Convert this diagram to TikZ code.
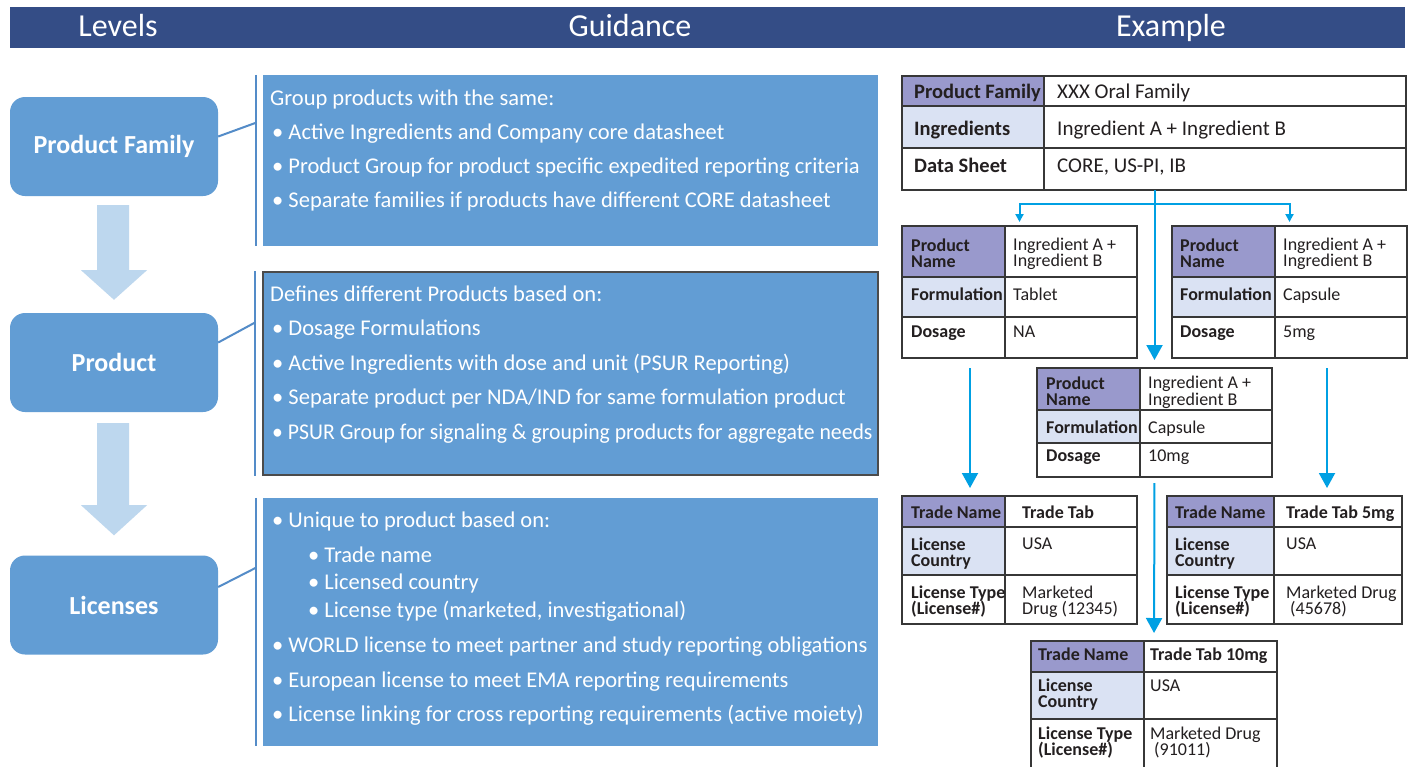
\documentclass[tikz,border=0pt]{standalone}
\usepackage{fontspec}
\setmainfont{Carlito}
\usetikzlibrary{arrows.meta,calc}
\definecolor{hdrc}{RGB}{52,77,134}
\definecolor{boxb}{RGB}{98,157,212}
\definecolor{arrl}{RGB}{189,215,238}
\definecolor{lnb}{RGB}{84,140,200}
\definecolor{pur}{RGB}{153,153,204}
\definecolor{lgt}{RGB}{218,226,243}
\definecolor{cyn}{RGB}{0,160,227}
\definecolor{bdr}{RGB}{55,55,55}
\definecolor{txt}{RGB}{35,31,32}
\newcommand\fsz[1]{\fontsize{#1}{#1}\selectfont}
\newcommand\tcell[6]{\node[cellst,fill=#6,minimum width={(#4)-(#2)},minimum height={(#5)-(#3)}] (#1) at ({((#2)+(#4))/2},{((#3)+(#5))/2}) {};}
\newcommand\tframe[5]{\node[framest,minimum width={(#4)-(#2)},minimum height={(#5)-(#3)}] (#1) at ({((#2)+(#4))/2},{((#3)+(#5))/2}) {};}
\newcommand\threerow[8]{%
 \tcell{#1a}{#2}{#5}{#3}{#6}{pur}\tcell{#1b}{#3}{#5}{#4}{#6}{white}%
 \tcell{#1c}{#2}{#6}{#3}{#7}{lgt}\tcell{#1d}{#3}{#6}{#4}{#7}{white}%
 \tcell{#1e}{#2}{#7}{#3}{#8}{white}\tcell{#1f}{#3}{#7}{#4}{#8}{white}%
 \tframe{#1}{#2}{#5}{#4}{#8}}
\begin{document}
\begin{tikzpicture}[x=1pt,y=-1pt,
  cellst/.style={draw=bdr,line width=1.8pt,inner sep=0pt,outer sep=0pt},
  framest/.style={draw=bdr,line width=1.8pt,inner sep=0pt,outer sep=0pt},
  lab/.style={anchor=base west,inner sep=0pt,font=\bfseries\fsz{18},text=txt},
  labt/.style={anchor=base west,inner sep=0pt,font=\bfseries\fsz{20.5},text=txt},
  val/.style={anchor=base west,inner sep=0pt,font=\fsz{18},text=txt},
  valt/.style={anchor=base west,inner sep=0pt,font=\fsz{21},text=txt},
  gtxt/.style={anchor=base west,inner sep=0pt,text=white,font=\fsz{22.5}},
  htxt/.style={anchor=base,inner sep=0pt,text=white,font=\fsz{32}},
  lvl/.style={rounded corners=15pt,fill=boxb,minimum width=208pt,minimum height=99pt,inner sep=0pt,text=white,font=\bfseries\fsz{26}},
  gbox/.style={fill=boxb,inner sep=0pt,minimum width=615pt},
  gl/.style={draw=lnb,line width=2pt},
  cy/.style={draw=cyn,line width=2pt},
  bigtip/.style={-{Triangle[width=16pt,length=15pt]}},
  smalltip/.style={-{Triangle[width=8pt,length=8pt]}}]
\useasboundingbox (0,0) rectangle (1410,766);
\fill[white] (0,0) rectangle (1410,766);

% header
\node[fill=hdrc,minimum width=1395pt,minimum height=41pt,inner sep=0pt] (hdr) at (707.5,27.5) {};
\node[htxt] (hLev) at (118,36) {Levels};
\node[htxt] (hGui) at (630,36) {Guidance};
\node[htxt] (hEx) at (1171,36) {Example};

% level boxes
\node[lvl] (pf) at (114,146.5) {Product Family};
\node[lvl] (pr) at (114,362.5) {Product};
\node[lvl] (li) at (114,605) {Licenses};

% fat arrows
\fill[arrl] ($(pf.south)+(-17,9)$) -- ($(pf.south)+(15,9)$) -- ($(pf.south)+(15,74)$) -- ($(pf.south)+(33,74)$)
  -- ($(pr.north)+(0,-13)$) -- ($(pf.south)+(-33,74)$) -- ($(pf.south)+(-17,74)$) -- cycle;
\fill[arrl] ($(pr.south)+(-17,11)$) -- ($(pr.south)+(15,11)$) -- ($(pr.south)+(15,93)$) -- ($(pr.south)+(33,93)$)
  -- ($(li.north)+(0,-20)$) -- ($(pr.south)+(-33,93)$) -- ($(pr.south)+(-17,93)$) -- cycle;

% guidance boxes
\node[gbox,minimum height=171pt] (g1) at (570.5,160.5) {};
\node[gbox,minimum height=203pt,draw=bdr!90,line width=1.3pt] (g2) at (570.5,373.5) {};
\node[gbox,minimum height=248pt] (g3) at (570.5,622) {};
\foreach \g in {g1,g2,g3}{
  \draw[gl] ($(\g.north west)+(-7,0)$) -- ($(\g.south west)+(-7,0)$);
}
\draw[gl] ($(pf.east)+(0,-10)$) -- ($(g1.north west)+(-7,48)$);
\draw[gl] ($(pr.east)+(0,-20)$) -- ($(g2.north west)+(-7,51)$);
\draw[gl] ($(li.east)+(0,-18)$) -- ($(g3.north west)+(-7,70)$);

% guidance text
\node[gtxt] (a1) at (270,105) {Group products with the same:};
\node[gtxt] (a2) at (272,139) {• Active Ingredients and Company core datasheet};
\node[gtxt] (a3) at (272,173) {• Product Group for product specific expedited reporting criteria};
\node[gtxt] (a4) at (272,207) {• Separate families if products have different CORE datasheet};

\node[gtxt] (b1) at (270,301) {Defines different Products based on:};
\node[gtxt] (b2) at (272,335) {• Dosage Formulations};
\node[gtxt] (b3) at (272,370) {• Active Ingredients with dose and unit (PSUR Reporting)};
\node[gtxt] (b4) at (272,404) {• Separate product per NDA/IND for same formulation product};
\node[gtxt] (b5) at (272,439) {\scalebox{0.965}[1]{• PSUR Group for signaling \& grouping products for aggregate needs}};

\node[gtxt] (c1) at (272,527) {• Unique to product based on:};
\node[gtxt] (c2) at (308,562) {• Trade name};
\node[gtxt] (c3) at (308,589) {• Licensed country};
\node[gtxt] (c4) at (308,617) {• License type (marketed, investigational)};
\node[gtxt] (c5) at (272,652) {• WORLD license to meet partner and study reporting obligations};
\node[gtxt] (c6) at (272,687) {• European license to meet EMA reporting requirements};
\node[gtxt] (c7) at (272,721) {• License linking for cross reporting requirements (active moiety)};

% tables
\threerow{TT}{902}{1044}{1406}{76}{106}{148}{190}
\threerow{PL}{902}{1005}{1137}{226}{277}{317}{358}
\threerow{PR}{1172}{1275}{1407}{226}{277}{317}{358}
\threerow{MP}{1037}{1140}{1272}{368}{410}{443}{477}
\threerow{LL}{902}{1005}{1137}{496}{527}{575}{624}
\threerow{LR}{1167}{1274}{1402}{496}{527}{575}{624}
\threerow{LB}{1031}{1144}{1277}{641}{672}{719}{780}

% top table text
\node[labt] (tt1) at (914,98) {Product Family};
\node[valt] (tt2) at (1057,98) {XXX Oral Family};
\node[labt] (tt3) at (914,135) {Ingredients};
\node[valt] (tt4) at (1057,135) {Ingredient A + Ingredient B};
\node[labt] (tt5) at (914,172) {Data Sheet};
\node[valt] (tt6) at (1057,172) {CORE, US-PI, IB};

% product tables text
\node[lab] (pl1) at (911,251) {Product};
\node[lab] (pl2) at (911,267) {Name};
\node[val] (pl3) at (1013,250) {Ingredient A +};
\node[val] (pl4) at (1013,266) {Ingredient B};
\node[lab] (pl5) at (911,300) {Formulation};
\node[val] (pl6) at (1013,300) {Tablet};
\node[lab] (pl7) at (911,337) {Dosage};
\node[val] (pl8) at (1013,337) {NA};

\node[lab] (pr1) at (1180,251) {Product};
\node[lab] (pr2) at (1180,267) {Name};
\node[val] (pr3) at (1283,250) {Ingredient A +};
\node[val] (pr4) at (1283,266) {Ingredient B};
\node[lab] (pr5) at (1180,300) {Formulation};
\node[val] (pr6) at (1283,300) {Capsule};
\node[lab] (pr7) at (1180,337) {Dosage};
\node[val] (pr8) at (1283,337) {5mg};

\node[lab] (mp1) at (1046,389) {Product};
\node[lab] (mp2) at (1046,405) {Name};
\node[val] (mp3) at (1148,388) {Ingredient A +};
\node[val] (mp4) at (1148,405) {Ingredient B};
\node[lab] (mp5) at (1046,433) {Formulation};
\node[val] (mp6) at (1148,433) {Capsule};
\node[lab] (mp7) at (1046,461) {Dosage};
\node[val] (mp8) at (1148,461) {10mg};

% license tables text
\node[lab] (ll1) at (911,518) {Trade Name};
\node[lab] (ll2) at (1022,518) {Trade Tab};
\node[lab] (ll3) at (911,550) {License};
\node[lab] (ll4) at (911,566) {Country};
\node[val] (ll5) at (1022,549) {USA};
\node[lab] (ll6) at (911,598) {License Type};
\node[lab] (ll7) at (911,614) {(License\#)};
\node[val] (ll8) at (1022,598) {Marketed};
\node[val] (ll9) at (1022,614) {Drug (12345)};

\node[lab] (lr1) at (1175,518) {Trade Name};
\node[lab] (lr2) at (1286,518) {Trade Tab 5mg};
\node[lab] (lr3) at (1175,550) {License};
\node[lab] (lr4) at (1175,566) {Country};
\node[val] (lr5) at (1286,549) {USA};
\node[lab] (lr6) at (1175,598) {License Type};
\node[lab] (lr7) at (1175,614) {(License\#)};
\node[val] (lr8) at (1286,598) {Marketed Drug};
\node[val] (lr9) at (1290,614) {(45678)};

\node[lab] (lb1) at (1038,660) {Trade Name};
\node[lab] (lb2) at (1150,660) {Trade Tab 10mg};
\node[lab] (lb3) at (1038,691) {License};
\node[lab] (lb4) at (1038,707) {Country};
\node[val] (lb5) at (1150,691) {USA};
\node[lab] (lb6) at (1038,739) {License Type};
\node[lab] (lb7) at (1038,755) {(License\#)};
\node[val] (lb8) at (1150,739) {Marketed Drug};
\node[val] (lb9) at (1154,755) {(91011)};

% connectors
\coordinate (xl) at (970,0);
\coordinate (xr) at (1327,0);
\coordinate (br) at ($(TT.south -| MP.north)+(0,14)$);
\draw[cy,bigtip,shorten >=8pt] (TT.south -| MP.north) -- (MP.north);
\draw[cy,smalltip,shorten >=4pt] (br) -| (PL.north);
\draw[cy,smalltip,shorten >=4pt] (br) -| (PR.north);
\draw[cy,bigtip,shorten <=10pt,shorten >=8pt] (PL.south -| xl) -- (LL.north -| xl);
\draw[cy,bigtip,shorten <=10pt,shorten >=8pt] (PR.south -| xr) -- (LR.north -| xr);
\draw[cy,bigtip,shorten <=6pt,shorten >=8pt] (MP.south) -- (LB.north);
\end{tikzpicture}
\end{document}
